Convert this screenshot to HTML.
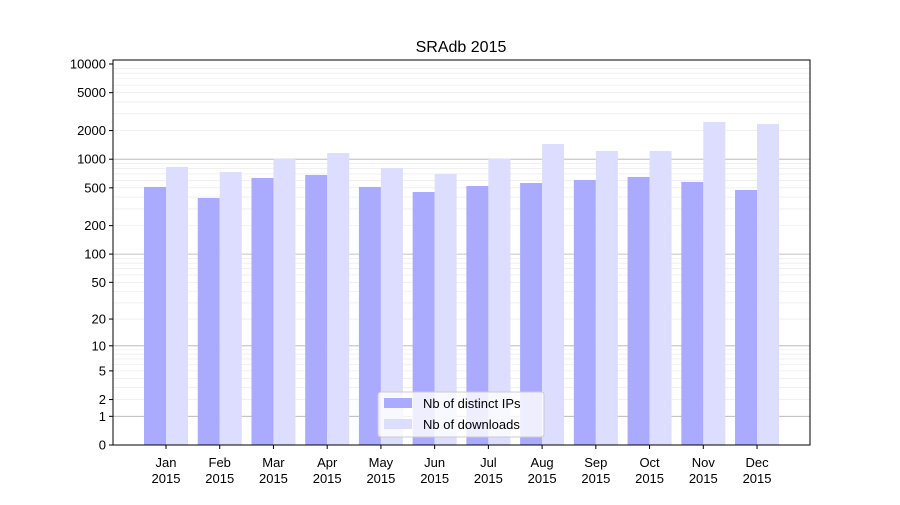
<!DOCTYPE html>
<html><head><meta charset="utf-8"><style>body{margin:0;background:#fff}svg{font-family:"Liberation Sans","DejaVu Sans",sans-serif}</style></head>
<body>
<svg id="c" width="900" height="500" viewBox="0 0 900 500"></svg>
<script>
const months=["Jan","Feb","Mar","Apr","May","Jun","Jul","Aug","Sep","Oct","Nov","Dec"];
const ips=[511,391,635,683,511,452,523,562,605,651,577,475];
const downloads=[829,734,1006,1163,809,700,1006,1445,1221,1221,2461,2345];
const yTicks=[0,1,2,5,10,20,50,100,200,500,1000,2000,5000,10000];
const svg=document.getElementById('c');const NS="http://www.w3.org/2000/svg";
const L=113,R=810,T=60,B=445,K=95.25;
const y=v=>B-K*Math.log10(v+1);
const x0=166,step=53.73,bw=22;
const xc=i=>x0+i*step;
function el(t,a,p){const e=document.createElementNS(NS,t);for(const k in a)e.setAttribute(k,a[k]);(p||svg).appendChild(e);return e;}
// grid
for(let d=1;d<=1000;d*=10){for(let m=1;m<=9;m++){const v=d*m;const yy=y(v);
const g=el('line',{x1:L,x2:R,y1:yy,y2:yy,stroke:m==1?'#b0b0b0':'#e8e8e8','stroke-width':m==1?0.8:0.6});

}}
// bars
months.forEach((m,i)=>{
const b1=el('rect',{x:xc(i)-bw,y:y(ips[i]),width:bw,height:B-y(ips[i]),fill:'#aaaaff'});


const b2=el('rect',{x:xc(i),y:y(downloads[i]),width:bw,height:B-y(downloads[i]),fill:'#ddddff'});


const tk=el('line',{x1:xc(i),x2:xc(i),y1:B,y2:B+4,stroke:'#000'});


const t=el('text',{x:xc(i),y:467,'font-size':13,'text-anchor':'middle'});


t.textContent=m;
const t2=el('text',{x:xc(i),y:483,'font-size':13,'text-anchor':'middle'});


t2.textContent='2015';
});
yTicks.forEach(v=>{
const tk=el('line',{x1:L-4,x2:L,y1:y(v),y2:y(v),stroke:'#000'});


const t=el('text',{x:L-7,y:y(v)+4.5,'font-size':13,'text-anchor':'end'});


t.textContent=v;
});
const fr=el('rect',{x:L,y:T,width:R-L,height:B-T,fill:'none',stroke:'#000','stroke-width':1});


const ti=el('text',{x:461,y:52,'font-size':16,'text-anchor':'middle'});


ti.textContent='SRAdb 2015';
// legend
const lg=el('g',{});


el('rect',{x:378,y:392,width:166,height:45,rx:3,fill:'#fff','fill-opacity':0.8,stroke:'#ccc'},lg);
el('rect',{x:384,y:398,width:28,height:10,fill:'#aaaaff'},lg);
el('rect',{x:384,y:419,width:28,height:10,fill:'#ddddff'},lg);
const l1=el('text',{x:423,y:408,'font-size':13},lg);


l1.textContent='Nb of distinct IPs';
const l2=el('text',{x:423,y:429,'font-size':13},lg);


l2.textContent='Nb of downloads';
</script>
</body></html>
